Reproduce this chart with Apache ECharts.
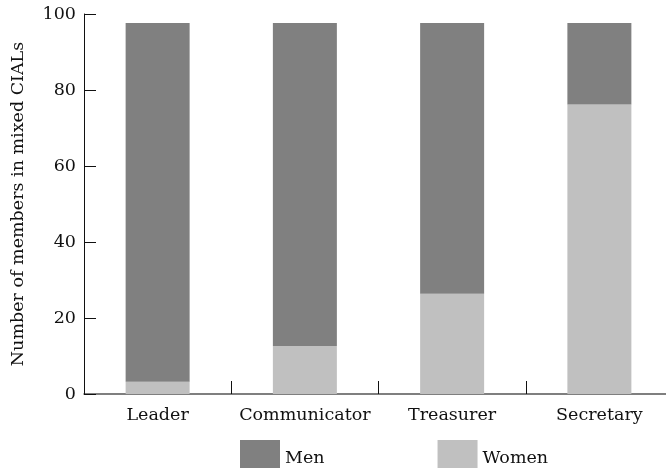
<!DOCTYPE html>
<html>
<head>
<meta charset="utf-8">
<script src="https://cdn.jsdelivr.net/npm/echarts@6/dist/echarts.min.js"></script>
<style>html,body{margin:0;padding:0;background:#fff}#c{width:666px;height:468px}</style>
</head>
<body>
<div id="c"></div>
<script>
var categories = ['Leader', 'Communicator', 'Treasurer', 'Secretary'];
var women = [3.2, 12.6, 26.4, 76.2];
var men = [94.4, 85.0, 71.2, 21.4];
var yTicks = [0, 20, 40, 60, 80, 100];

var FONT = 'DejaVu Serif';
var chart = echarts.init(document.getElementById('c'));
chart.setOption({
  animation: false,
  textStyle: { fontFamily: FONT },
  grid: { left: 84, width: 589, top: 14, bottom: 74, outerBoundsMode: 'none', containLabel: false },
  legend: {
    data: ['Men', 'Women'],
    left: 235, top: 435, icon: 'rect',
    itemWidth: 40, itemHeight: 37, itemGap: 113,
    textStyle: { fontFamily: FONT, fontSize: 17.5, color: '#111' }
  },
  xAxis: {
    type: 'category',
    data: categories,
    boundaryGap: true,
    axisLine: { show: true, lineStyle: { color: '#555', width: 1.5 } },
    axisTick: { show: true, inside: true, interval: 0, length: 13, lineStyle: { color: '#111', width: 1 } },
    axisLabel: { interval: 0, fontFamily: FONT, fontSize: 17.5, color: '#111', margin: 12 }
  },
  yAxis: {
    type: 'value', min: yTicks[0], max: yTicks[yTicks.length - 1], interval: 20,
    name: 'Number of members in mixed CIALs',
    nameLocation: 'middle', nameGap: 57,
    nameTextStyle: { fontFamily: FONT, fontSize: 17.5, color: '#111' },
    splitLine: { show: false },
    axisLine: { show: true, lineStyle: { color: '#111', width: 1 } },
    axisTick: { show: true, inside: true, length: 12, lineStyle: { color: '#111' } },
    axisLabel: { fontFamily: FONT, fontSize: 17.5, color: '#111', margin: 8 }
  },
  series: [
    { name: 'Women', type: 'bar', stack: 's', data: women, barWidth: 64,
      itemStyle: { color: '#c0c0c0' } },
    { name: 'Men', type: 'bar', stack: 's', data: men, barWidth: 64,
      itemStyle: { color: '#808080' } }
  ]
});
</script>
</body>
</html>
